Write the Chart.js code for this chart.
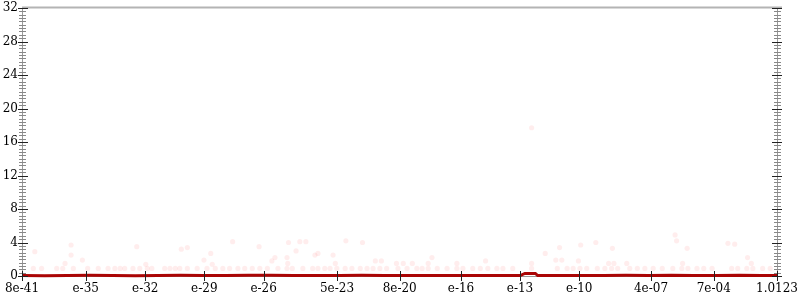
<!DOCTYPE html>
<html lang="en">
<head>
  <meta charset="utf-8">
  <title>Distribution</title>
  <script src="https://cdn.jsdelivr.net/npm/chart.js@4.4.1/dist/chart.umd.min.js"></script>
  <style>
    html, body { margin: 0; padding: 0; background: #fff; }
    #wrap { width: 800px; height: 300px; }
  </style>
</head>
<body>
<div id="wrap"><canvas id="dist"></canvas></div>
<script>
// x axis is a position along the bucket range (0..100), labels sit at uneven positions
var xTickPos = [0, 8.44, 16.33, 24.15, 32.01, 41.72, 50.03, 58.15, 65.96, 73.81, 83.31, 91.62, 100];
var xTickLabels = ['8e-41', 'e-35', 'e-32', 'e-29', 'e-26', '5e-23', '8e-20', 'e-16', 'e-13', 'e-10', '4e-07', '7e-04', '1.0123'];
var yMax = 32;
var yMajor = 4;
var yMinor = 0.4;

// median line
var lineX = [0, 3, 6, 9, 12, 15, 18, 21, 24, 27, 30, 33, 36, 39, 42, 45, 48, 51, 54, 57, 60, 63, 66, 66.6, 68, 68.3, 71, 74, 77, 80, 83, 86, 89, 92, 95, 98, 100];
var lineY = [0.05, 0.04, 0.06, 0.08, 0.05, 0.04, 0.07, 0.09, 0.06, 0.05, 0.08, 0.1, 0.07, 0.05, 0.06, 0.08, 0.06, 0.05, 0.07, 0.05, 0.06, 0.05, 0.06, 0.3, 0.3, 0.06, 0.05, 0.07, 0.06, 0.08, 0.05, 0.09, 0.06, 0.05, 0.08, 0.05, 0.06];

// faint samples: a dense row near 1 and scattered ones above
var rowX = [1.5, 2.6, 4.6, 5.4, 6.8, 8.7, 10.1, 11.4, 12.3, 13.0, 13.6, 14.7, 15.6, 16.6, 17.2, 18.9, 19.6, 20.3, 20.9, 21.9, 23.2, 24.5, 25.6, 26.6, 27.5, 28.6, 29.5, 30.5, 31.5, 32.5, 33.9, 35.1, 35.8, 37.2, 38.5, 39.2, 40.1, 40.8, 41.7, 42.8, 43.7, 44.8, 45.7, 46.5, 47.4, 48.3, 49.8, 51.0, 52.3, 53.0, 53.8, 55.0, 56.3, 57.6, 58.4, 59.7, 60.7, 61.7, 62.9, 63.7, 65.0, 67.5, 70.9, 72.2, 73.0, 73.9, 74.8, 76.2, 77.2, 78.1, 78.9, 80.5, 81.5, 82.5, 83.6, 84.8, 86.2, 87.4, 88.2, 89.4, 90.3, 91.4, 94.0, 94.8, 96.0, 96.8, 98.1, 99.1];
var rowY = 0.9;
var scatterX = [1.7, 6.5, 6.5, 5.7, 8.0, 15.2, 16.4, 21.1, 21.9, 25.0, 24.1, 25.2, 27.9, 31.4, 35.3, 36.8, 37.6, 42.9, 45.1, 36.3, 39.2, 38.8, 41.2, 35.1, 33.5, 33.1, 35.2, 41.5, 46.8, 47.6, 49.6, 50.5, 51.7, 54.3, 53.8, 57.6, 61.4, 67.5, 69.3, 71.2, 70.7, 71.5, 74.0, 73.7, 76.0, 78.2, 77.7, 78.4, 80.1, 86.5, 86.7, 88.1, 87.5, 93.5, 94.4, 96.1, 96.6, 67.5];
var scatterY = [2.9, 3.7, 2.5, 1.5, 1.9, 3.5, 1.4, 3.2, 3.4, 2.7, 1.9, 1.4, 4.1, 3.5, 4.0, 4.1, 4.1, 4.2, 4.0, 3.0, 2.7, 2.5, 2.5, 2.2, 2.2, 1.8, 1.5, 1.5, 1.8, 1.8, 1.5, 1.5, 1.5, 2.2, 1.5, 1.5, 1.8, 17.7, 2.7, 3.4, 1.9, 1.9, 3.7, 1.8, 4.0, 3.3, 1.5, 1.5, 1.5, 4.9, 4.2, 3.3, 1.5, 3.9, 3.8, 2.2, 1.5, 1.5];

var linePts = lineX.map(function(x, i) { return {x: x, y: lineY[i]}; });
var dotPts = rowX.map(function(x) { return {x: x, y: rowY}; });
scatterX.forEach(function(x, i) { dotPts.push({x: x, y: scatterY[i]}); });

function isMajor(v) {
    return Math.abs(v / yMajor - Math.round(v / yMajor)) < 1e-6;
}

// axis frame and crossing tick marks
var frame = {
    id: 'frame',
    beforeDatasetsDraw: function(chart) {
        var ctx = chart.ctx, a = chart.chartArea;
        ctx.save();
        ctx.strokeStyle = '#999';
        ctx.lineWidth = 1;
        ctx.beginPath();
        ctx.moveTo(a.left + 0.5, a.top); ctx.lineTo(a.left + 0.5, a.bottom);
        ctx.moveTo(a.right + 0.5, a.top); ctx.lineTo(a.right + 0.5, a.bottom);
        ctx.moveTo(a.left, a.bottom + 0.5); ctx.lineTo(a.right + 5, a.bottom + 0.5);
        ctx.stroke();
        ctx.strokeStyle = '#b4b4b4';
        ctx.lineWidth = 2;
        ctx.beginPath();
        ctx.moveTo(a.left, a.top - 0.5); ctx.lineTo(a.right + 5, a.top - 0.5);
        ctx.stroke();
        ctx.restore();
    },
    afterDatasetsDraw: function(chart) {
        var ctx = chart.ctx, a = chart.chartArea, y = chart.scales.y, x = chart.scales.x;
        ctx.save();
        ctx.lineWidth = 1;
        y.ticks.forEach(function(t) {
            var py = Math.round(y.getPixelForValue(t.value)) + 0.5;
            var major = isMajor(t.value);
            ctx.strokeStyle = major ? '#222' : '#888';
            ctx.beginPath();
            if (major) {
                ctx.moveTo(a.left - 4, py); ctx.lineTo(a.left + 6, py);
                ctx.moveTo(a.right - 5, py); ctx.lineTo(a.right + 5, py);
            } else {
                ctx.moveTo(a.left - 3, py); ctx.lineTo(a.left + 4, py);
                ctx.moveTo(a.right - 3, py); ctx.lineTo(a.right + 4, py);
            }
            ctx.stroke();
        });
        ctx.strokeStyle = '#222';
        x.ticks.forEach(function(t) {
            var px = Math.round(x.getPixelForValue(t.value)) + 0.5;
            ctx.beginPath();
            ctx.moveTo(px, a.bottom - 5); ctx.lineTo(px, a.bottom + 5);
            ctx.stroke();
        });
        ctx.restore();
    }
};

var chart = new Chart(document.getElementById('dist').getContext('2d'), {
    type: 'scatter',
    data: {
        datasets: [{
            type: 'line',
            label: 'median',
            data: linePts,
            borderColor: 'rgb(170,5,5)',
            borderWidth: 3,
            pointRadius: 0,
            tension: 0,
            clip: false,
            order: 0
        }, {
            label: 'samples',
            data: dotPts,
            backgroundColor: 'rgba(255,0,0,0.07)',
            borderWidth: 0,
            pointRadius: 2.6,
            clip: false,
            order: 1
        }]
    },
    options: {
        responsive: true,
        maintainAspectRatio: false,
        animation: false,
        layout: { padding: { top: 8, right: 23, left: 0, bottom: 0 } },
        plugins: { legend: { display: false }, tooltip: { enabled: false } },
        scales: {
            x: {
                type: 'linear',
                min: 0,
                max: 100,
                border: { display: false },
                grid: { display: false, drawTicks: false },
                afterBuildTicks: function(scale) {
                    scale.ticks = xTickPos.map(function(v) { return {value: v}; });
                },
                afterFit: function(scale) {
                    scale.height = 24;
                    scale.paddingLeft = 0;
                    scale.paddingRight = 0;
                },
                ticks: {
                    autoSkip: false,
                    maxRotation: 0,
                    padding: 6,
                    color: '#000',
                    font: { family: 'DejaVu Serif', size: 12 },
                    callback: function(v, i) { return xTickLabels[i]; }
                }
            },
            y: {
                min: 0,
                max: yMax,
                border: { display: false },
                grid: { display: false, drawTicks: false },
                afterBuildTicks: function(scale) {
                    var t = [];
                    for (var i = 0; i <= Math.round(yMax / yMinor); i++) t.push({value: +(i * yMinor).toFixed(2)});
                    scale.ticks = t;
                },
                afterFit: function(scale) {
                    scale.width = 22;
                    scale.paddingTop = 0;
                    scale.paddingBottom = 0;
                },
                ticks: {
                    autoSkip: false,
                    padding: 4,
                    color: '#000',
                    font: { family: 'DejaVu Serif', size: 12 },
                    callback: function(v) { return isMajor(v) ? String(Math.round(v)) : ''; }
                }
            }
        }
    },
    plugins: [frame]
});
</script>
</body>
</html>
